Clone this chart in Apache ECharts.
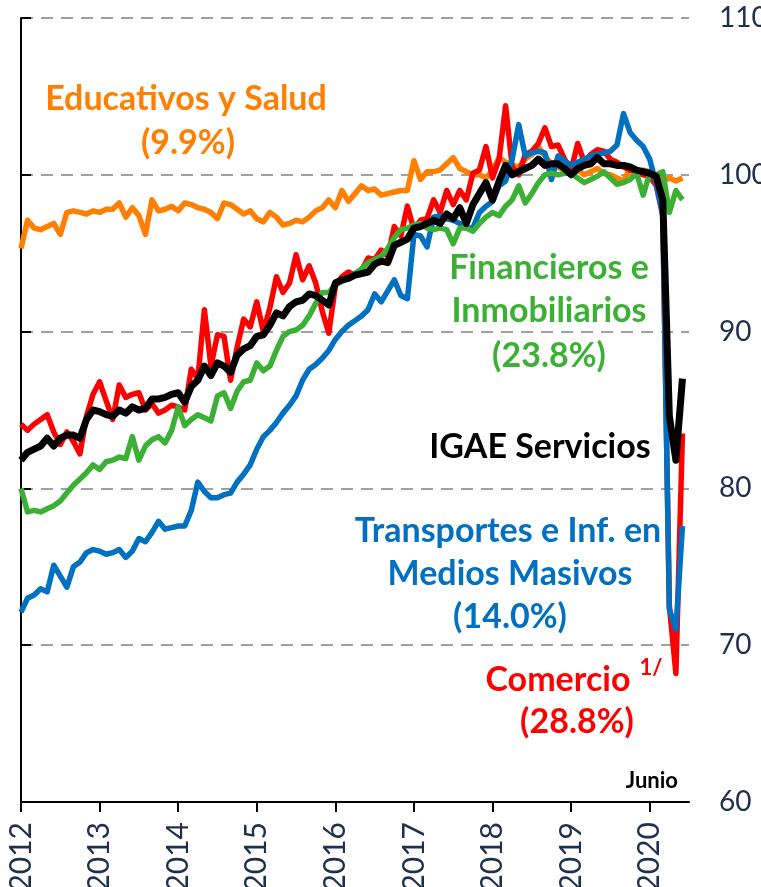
<!DOCTYPE html>
<html>
<head>
<meta charset="utf-8">
<script src="https://cdn.jsdelivr.net/npm/echarts@6/dist/echarts.min.js"></script>
<style>
  html, body { margin: 0; padding: 0; background: #fff; }
  #main { width: 761px; height: 887px; }
</style>
</head>
<body>
<div id="main"></div>
<script>
// indices mensuales ene-2012 .. jun-2020 (102 meses)
var years = ['2012', '2013', '2014', '2015', '2016', '2017', '2018', '2019', '2020'];
var yTicks = [60, 70, 80, 90, 100, 110];

var educativos = [95.3, 97.1, 96.6, 96.5, 96.7, 96.9, 96.2, 97.6, 97.7, 97.6, 97.5, 97.7,
    97.6, 97.8, 97.8, 98.2, 97.3, 97.9, 97.4, 96.2, 98.4, 97.7, 97.8, 98.0,
    97.7, 98.2, 98.1, 97.9, 97.8, 97.6, 97.2, 98.2, 98.1, 97.8, 97.5, 97.7,
    97.2, 97.0, 97.6, 97.3, 96.8, 96.9, 97.1, 97.0, 97.3, 97.7, 97.9, 98.4,
    97.9, 99.0, 98.3, 98.8, 99.3, 99.0, 99.1, 98.7, 98.8, 98.9, 99.0, 99.0,
    100.9, 99.7, 100.2, 100.2, 100.3, 100.7, 101.1, 100.4, 100.2, 100.0, 100.0, 99.8,
    100.3, 101.1, 100.8, 100.6, 100.5, 101.0, 101.3, 101.8, 101.2, 100.7, 100.5, 100.3,
    100.5, 100.3, 100.0, 100.2, 100.4, 100.1, 100.0, 99.8, 99.6, 100.4, 100.0, 100.3,
    100.2, 99.9, 99.6, 99.8, 99.6, 99.8];

var comercio = [84.1, 83.7, 84.1, 84.4, 84.7, 83.6, 82.8, 83.6, 83.0, 82.2, 84.6, 86.0,
    86.8, 85.6, 84.4, 86.6, 85.8, 86.0, 86.1, 85.0, 85.4, 84.8, 85.0, 85.3,
    85.2, 85.0, 87.6, 87.0, 91.4, 87.8, 89.8, 89.7, 86.9, 89.0, 90.8, 90.3,
    91.9, 90.0, 91.5, 93.5, 92.5, 93.1, 94.9, 93.3, 94.2, 93.1, 91.3, 89.9,
    92.9, 93.5, 93.8, 93.6, 93.9, 94.7, 94.6, 95.2, 94.8, 96.7, 96.1, 98.0,
    96.5, 97.1, 97.2, 98.4, 97.6, 99.0, 98.1, 99.0, 98.4, 100.1, 100.3, 101.8,
    99.8, 101.0, 104.4, 100.5, 100.0, 101.3, 101.5, 102.0, 103.0, 101.8, 101.9, 101.0,
    100.3, 102.0, 100.8, 101.3, 101.6, 101.5, 101.0, 100.8, 100.5, 100.3, 100.2, 100.0,
    99.9, 99.3, 97.4, 72.5, 68.2, 83.5];

var transportes = [72.1, 73.0, 73.2, 73.6, 73.4, 75.1, 74.4, 73.7, 75.0, 75.3, 75.9, 76.1,
    76.0, 75.8, 75.9, 76.1, 75.6, 76.0, 76.8, 76.6, 77.2, 77.9, 77.4, 77.5,
    77.6, 77.6, 78.6, 80.4, 79.8, 79.4, 79.4, 79.6, 79.7, 80.4, 80.9, 81.5,
    82.5, 83.3, 83.7, 84.2, 84.8, 85.3, 85.9, 86.9, 87.6, 87.9, 88.3, 88.8,
    89.5, 90.0, 90.4, 90.7, 91.0, 91.4, 92.4, 91.9, 92.6, 93.3, 92.3, 92.1,
    96.2, 96.1, 95.4, 97.3, 97.4, 97.2, 97.1, 96.9, 96.6, 96.6, 97.6, 98.0,
    98.3, 99.3, 99.6, 101.0, 103.2, 101.2, 101.4, 101.5, 101.4, 99.7, 101.2, 100.9,
    100.6, 100.8, 101.0, 101.2, 101.3, 101.4, 101.5, 101.9, 103.9, 102.7, 102.2, 101.8,
    101.0, 99.4, 97.5, 72.3, 71.0, 77.6];

var financieros = [80.0, 78.5, 78.6, 78.5, 78.7, 78.9, 79.2, 79.7, 80.2, 80.6, 81.0, 81.5,
    81.2, 81.7, 81.8, 82.0, 81.9, 83.3, 81.8, 82.7, 83.1, 83.3, 82.9, 83.7,
    85.2, 84.0, 84.4, 84.7, 84.5, 84.3, 85.9, 86.1, 85.1, 86.2, 86.8, 86.9,
    88.0, 87.5, 87.8, 88.8, 89.7, 90.0, 90.1, 90.4, 91.0, 91.8, 92.5, 92.5,
    93.0, 93.2, 93.4, 93.7, 94.0, 94.4, 94.6, 94.8, 95.3, 96.0, 96.5, 96.6,
    96.8, 96.9, 96.6, 96.5, 96.6, 96.5, 95.6, 96.6, 96.6, 96.4, 96.9, 97.3,
    97.6, 97.4, 98.0, 98.4, 99.3, 98.2, 98.8, 99.5, 100.0, 100.1, 100.0, 100.1,
    100.1, 99.8, 99.5, 99.7, 99.9, 100.2, 99.8, 99.4, 99.5, 99.7, 100.1, 98.7,
    100.1, 100.0, 100.2, 97.6, 99.0, 98.4];

var igae = [81.8, 82.3, 82.5, 82.7, 83.2, 82.7, 83.2, 83.4, 83.4, 83.2, 84.4, 85.0,
    84.9, 84.7, 84.6, 85.0, 84.8, 85.2, 85.0, 85.1, 85.7, 85.7, 85.8, 86.0,
    86.1, 85.5, 86.5, 86.9, 87.8, 87.2, 88.0, 87.8, 87.4, 88.5, 88.9, 89.1,
    89.7, 89.8, 90.4, 91.2, 91.0, 91.6, 91.9, 92.0, 92.4, 92.3, 92.0, 91.7,
    93.1, 93.3, 93.4, 93.6, 93.7, 93.8, 94.3, 94.5, 94.4, 95.5, 95.7, 95.9,
    96.6, 96.7, 96.9, 97.1, 96.9, 97.5, 97.2, 97.9, 96.9, 98.1, 98.8, 99.5,
    98.4, 99.6, 100.6, 100.0, 100.2, 100.4, 100.6, 101.0, 100.6, 100.7, 100.7, 100.4,
    100.0, 100.4, 100.6, 100.7, 101.1, 100.7, 100.7, 100.6, 100.6, 100.5, 100.3, 100.2,
    100.1, 99.9, 98.4, 84.6, 81.8, 87.0];

// eje x: mes 0 = enero 2012
var yearPos = years.map(function (y, k) { return k * 12; });

function pares(arr) {
    return arr.map(function (v, i) { return [i, v]; });
}

function linea(nombre, datos, color, ancho) {
    return {
        name: nombre,
        type: 'line',
        data: pares(datos),
        symbol: 'none',
        lineStyle: { color: color, width: ancho, join: 'round' },
        itemStyle: { color: color },
        z: 2
    };
}

var labelColor = '#1f2f4e';
var fam = 'Lato, "Noto Sans", sans-serif';

function txt(s, x, y, color, size, align) {
    return {
        type: 'text',
        z: 10,
        style: {
            text: s,
            x: x,
            y: y,
            fill: color,
            font: 'bold ' + size + 'px ' + fam,
            align: align || 'center',
            verticalAlign: 'middle'
        }
    };
}

var chart = echarts.init(document.getElementById('main'));

var option = {
    animation: false,
    backgroundColor: '#fff',
    grid: { left: 21, right: 72, top: 18, bottom: 85, containLabel: false, outerBoundsMode: 'none' },
    xAxis: {
        type: 'value',
        min: 0,
        max: 102,
        splitLine: { show: false },
        axisLine: { show: true, lineStyle: { color: '#000', width: 2 } },
        axisTick: {
            show: true,
            length: 10,
            customValues: yearPos,
            lineStyle: { color: '#000', width: 2 }
        },
        axisLabel: {
            customValues: yearPos,
            rotate: 90,
            margin: 20,
            color: labelColor,
            fontSize: 30,
            fontFamily: fam,
            formatter: function (v) { return years[Math.round(v / 12)]; }
        }
    },
    yAxis: {
        type: 'value',
        position: 'right',
        min: yTicks[0],
        max: yTicks[yTicks.length - 1],
        interval: 10,
        axisLine: { show: true, lineStyle: { color: '#000', width: 2 } },
        axisTick: { show: true, length: 10, lineStyle: { color: '#000', width: 2 } },
        axisLabel: {
            margin: 30,
            color: labelColor,
            fontSize: 28,
            fontFamily: fam
        },
        splitLine: {
            show: true,
            lineStyle: { color: '#a0a0a0', width: 2, type: [12, 8] }
        }
    },
    series: [
        linea('Educativos y Salud', educativos, '#ff7f00', 5.5),
        linea('Comercio', comercio, '#ff0000', 5.5),
        linea('Transportes e Inf. en Medios Masivos', transportes, '#0070c0', 5.5),
        linea('Financieros e Inmobiliarios', financieros, '#3cb034', 5.5),
        linea('IGAE Servicios', igae, '#000000', 7)
    ],
    graphic: [
        txt('Educativos y Salud', 186, 99, '#ff7f00', 34),
        txt('(9.9%)', 188, 143, '#ff7f00', 34),
        txt('Financieros e', 549, 268, '#3cb034', 34),
        txt('Inmobiliarios', 549, 311, '#3cb034', 34),
        txt('(23.8%)', 549, 356, '#3cb034', 34),
        txt('IGAE Servicios', 540, 447, '#000', 34),
        txt('Transportes e Inf. en', 508, 531, '#0070c0', 34),
        txt('Medios Masivos', 510, 574, '#0070c0', 34),
        txt('(14.0%)', 510, 617, '#0070c0', 34),
        txt('Comercio', 558, 680, '#ff0000', 34),
        txt('1/', 651, 668, '#ff0000', 22),
        txt('(28.8%)', 577, 722, '#ff0000', 34),
        txt('Junio', 678, 781, '#000', 22, 'right')
    ]
};

chart.setOption(option);
</script>
</body>
</html>
